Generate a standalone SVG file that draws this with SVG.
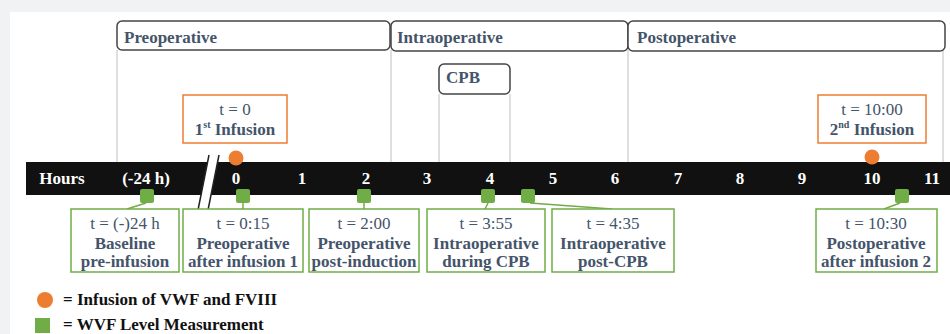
<svg xmlns="http://www.w3.org/2000/svg" width="950" height="334" viewBox="0 0 950 334">
<style>
.hdr{fill:#fff;stroke:#444;stroke-width:1.5}
.ht{font-family:"Liberation Serif",serif;font-weight:bold;font-size:17px;fill:#44546a}
.vl{stroke:#d4d4d4;stroke-width:1.5;fill:none}
.ob{fill:#fff;stroke:#ed7d31;stroke-width:1.5}
.gb{fill:#fff;stroke:#70ad47;stroke-width:1.5}
.reg{font-family:"Liberation Serif",serif;font-size:17px;fill:#44546a;text-anchor:middle}
.bld{font-family:"Liberation Serif",serif;font-weight:bold;font-size:17px;fill:#44546a;text-anchor:middle}
.bar{font-family:"Liberation Serif",serif;font-weight:bold;font-size:17px;fill:#fff;text-anchor:middle}
.leg{font-family:"Liberation Serif",serif;font-weight:bold;font-size:17px;fill:#111}
.dot{fill:#ed7d31}
.sq{fill:#70ad47}
.con{stroke:#70ad47;stroke-width:1.5;fill:none}
</style>
<rect x="0" y="0" width="950" height="334" fill="#f0f2f4"/>
<rect x="10" y="12" width="940" height="322" fill="#fff"/>

<g id="guides">
<line class="vl" x1="117" y1="50" x2="117" y2="162"/>
<line class="vl" x1="391" y1="50" x2="391" y2="162"/>
<line class="vl" x1="439" y1="94" x2="439" y2="162"/>
<line class="vl" x1="510" y1="94" x2="510" y2="162"/>
<line class="vl" x1="628" y1="50" x2="628" y2="162"/>
<line class="vl" x1="943" y1="50" x2="943" y2="162"/>
</g>

<g id="preoperative">
<rect class="hdr" x="117" y="21" width="273" height="29" rx="5"/>
<text class="ht" x="124" y="43">Preoperative</text>
</g>
<g id="intraoperative">
<rect class="hdr" x="391" y="21" width="237" height="30" rx="5"/>
<text class="ht" x="397" y="43">Intraoperative</text>
</g>
<g id="postoperative">
<rect class="hdr" x="628" y="21" width="317" height="30" rx="5"/>
<text class="ht" x="637" y="43">Postoperative</text>
</g>
<g id="cpb">
<rect class="hdr" x="439" y="64" width="71" height="30" rx="5"/>
<text class="ht" x="446" y="83">CPB</text>
</g>

<g id="infusion1">
<rect class="ob" x="183" y="95" width="104" height="48"/>
<text class="reg" x="235" y="115">t = 0</text>
<text class="bld" x="235" y="135">1<tspan font-size="10" dy="-7">st</tspan><tspan dy="7"> Infusion</tspan></text>
</g>
<g id="infusion2">
<rect class="ob" x="818" y="95" width="108" height="48"/>
<text class="reg" x="872" y="115">t = 10:00</text>
<text class="bld" x="872" y="135">2<tspan font-size="10" dy="-7">nd</tspan><tspan dy="7"> Infusion</tspan></text>
</g>

<g id="timeline">
<rect x="26" y="162" width="924" height="33" fill="#111"/>
<polygon points="198,210 209,155 219,155 208,210" fill="#fff"/>
<line x1="198" y1="210" x2="209" y2="155" stroke="#222" stroke-width="1.5"/>
<line x1="208" y1="210" x2="219" y2="155" stroke="#222" stroke-width="1.5"/>
<text class="bar" x="62" y="184">Hours</text>
<text class="bar" x="146" y="184">(-24 h)</text>
<text class="bar" x="236" y="184">0</text>
<text class="bar" x="302" y="184">1</text>
<text class="bar" x="366" y="184">2</text>
<text class="bar" x="427" y="184">3</text>
<text class="bar" x="490" y="184">4</text>
<text class="bar" x="553" y="184">5</text>
<text class="bar" x="615" y="184">6</text>
<text class="bar" x="678" y="184">7</text>
<text class="bar" x="740" y="184">8</text>
<text class="bar" x="802" y="184">9</text>
<text class="bar" x="872" y="184">10</text>
<text class="bar" x="932" y="184">11</text>
<circle class="dot" cx="236" cy="158" r="7.5"/>
<circle class="dot" cx="872" cy="157" r="7.5"/>
</g>

<g id="connectors">
<line class="con" x1="146" y1="203" x2="127" y2="209"/>
<line class="con" x1="243" y1="203" x2="243" y2="209"/>
<line class="con" x1="364" y1="203" x2="364" y2="209"/>
<line class="con" x1="488" y1="203" x2="485" y2="209"/>
<line class="con" x1="530" y1="203" x2="612" y2="209"/>
<line class="con" x1="900" y1="203" x2="884" y2="209"/>
</g>

<g id="markers">
<rect class="sq" x="140" y="189" width="14" height="14" rx="2"/>
<rect class="sq" x="236" y="189" width="14" height="14" rx="2"/>
<rect class="sq" x="357" y="189" width="14" height="14" rx="2"/>
<rect class="sq" x="481" y="189" width="14" height="14" rx="2"/>
<rect class="sq" x="521" y="189" width="14" height="14" rx="2"/>
<rect class="sq" x="895" y="189" width="14" height="14" rx="2"/>
</g>

<g id="m1">
<rect class="gb" x="71" y="209" width="108" height="63"/>
<text class="reg" x="125" y="229">t = (-)24 h</text>
<text class="bld" x="125" y="249">Baseline</text>
<text class="bld" x="125" y="267">pre-infusion</text>
</g>
<g id="m2">
<rect class="gb" x="183" y="209" width="120" height="63"/>
<text class="reg" x="243" y="229">t = 0:15</text>
<text class="bld" x="243" y="249">Preoperative</text>
<text class="bld" x="243" y="267">after infusion 1</text>
</g>
<g id="m3">
<rect class="gb" x="309" y="209" width="110" height="63"/>
<text class="reg" x="364" y="229">t = 2:00</text>
<text class="bld" x="364" y="249">Preoperative</text>
<text class="bld" x="364" y="267">post-induction</text>
</g>
<g id="m4">
<rect class="gb" x="427" y="209" width="118" height="63"/>
<text class="reg" x="486" y="229">t = 3:55</text>
<text class="bld" x="486" y="249">Intraoperative</text>
<text class="bld" x="486" y="267">during CPB</text>
</g>
<g id="m5">
<rect class="gb" x="552" y="209" width="122" height="63"/>
<text class="reg" x="613" y="229">t = 4:35</text>
<text class="bld" x="613" y="249">Intraoperative</text>
<text class="bld" x="613" y="267">post-CPB</text>
</g>
<g id="m6">
<rect class="gb" x="816" y="209" width="121" height="63"/>
<text class="reg" x="876" y="229">t = 10:30</text>
<text class="bld" x="876" y="249">Postoperative</text>
<text class="bld" x="876" y="267">after infusion 2</text>
</g>

<g id="legend">
<circle class="dot" cx="45" cy="300" r="8"/>
<text class="leg" x="63" y="305">= Infusion of VWF and FVIII</text>
<rect class="sq" x="35" y="318" width="15" height="15"/>
<text class="leg" x="63" y="330">= WVF Level Measurement</text>
</g>
</svg>
